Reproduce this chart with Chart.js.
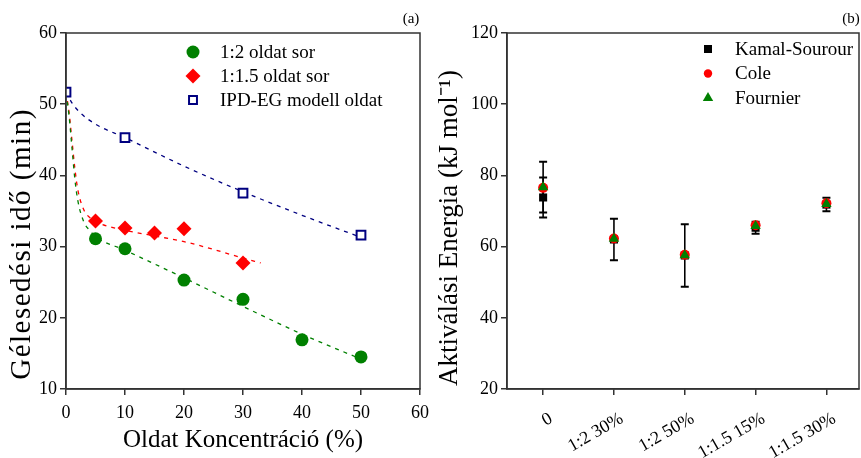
<!DOCTYPE html>
<html>
<head>
<meta charset="utf-8">
<script src="https://cdn.jsdelivr.net/npm/chart.js@4.4.1/dist/chart.umd.min.js"></script>
<style>
  body { margin: 0; background: #fff; }
  #wrap { position: relative; width: 861px; height: 458px; }
  #gelChart { position: absolute; left: 0; top: 0; }
  #energyChart { position: absolute; left: 430px; top: 0; }
</style>
</head>
<body>
<div id="wrap">
  <canvas id="gelChart" width="430" height="458"></canvas>
  <canvas id="energyChart" width="431" height="458"></canvas>
</div>
<script>
// (a) gelation time vs. solution concentration
const conc12 = [5, 10, 20, 30, 40, 50];
const time12 = [31.1, 29.7, 25.3, 22.6, 16.9, 14.5];
const conc15 = [5, 10, 15, 20, 30];
const time15 = [33.6, 32.6, 31.9, 32.5, 27.7];
const concIpd = [0, 10, 30, 50];
const timeIpd = [51.7, 45.3, 37.5, 31.6];

// dashed fit curves
const fit12X = [0, 0.5, 1, 1.5, 2, 3, 4, 5, 10, 20, 30, 40, 50];
const fit12Y = [51.6, 48.5, 44, 39.5, 36.5, 33.5, 32.3, 31.4, 29.5, 25.6, 21.6, 17.7, 14.2];
const fit15X = [0, 0.5, 1, 1.5, 2, 3, 4, 5, 10, 15, 20, 30, 33];
const fit15Y = [51.7, 49, 45, 41, 38, 35.2, 34.1, 33.5, 32.3, 31.5, 30.7, 28.4, 27.7];
const fitIpdX = [0, 1, 2.4, 5, 10, 20, 30, 40, 50];
const fitIpdY = [51.7, 50.2, 48.8, 47.2, 45.3, 41.3, 37.7, 34.4, 31.3];

// (b) activation energy per sample
const samples = ['0', '1:2 30%', '1:2 50%', '1:1.5 15%', '1:1.5 30%'];
const kamalSourour = [73.8, 62.0, 57.5, 65.3, 71.8];
const kamalErr = [5.6, 5.8, 8.8, 1.7, 1.9];
const cole = [76.5, 62.3, 57.7, 66.0, 72.2];
const fournier = [76.7, 62.2, 57.6, 65.8, 72.0];
const fournierErr = [7.1, 0, 0, 0, 0];

const serif = "'Liberation Serif', 'Times New Roman', serif";
Chart.defaults.font.family = serif;
Chart.defaults.color = '#000';

function pts(xs, ys) {
  return xs.map((x, i) => ({ x: x, y: ys[i] }));
}
const sampleIdx = samples.map((s, i) => i);

// box round the plot area
const frame = {
  id: 'frame',
  afterDraw(chart) {
    const a = chart.chartArea;
    const ctx = chart.ctx;
    ctx.save();
    ctx.strokeStyle = '#333';
    ctx.lineWidth = 1.5;
    ctx.strokeRect(a.left, a.top, a.right - a.left, a.bottom - a.top);
    ctx.restore();
  }
};

// legend inside the plot, panel letter and rotated y title
const decor = {
  id: 'decor',
  afterDraw(chart, args, opts) {
    const ctx = chart.ctx;
    ctx.save();
    ctx.textBaseline = 'middle';
    ctx.font = opts.legendSize + 'px ' + serif;
    opts.items.forEach((it, i) => {
      const y = opts.legendY + i * opts.legendStep;
      ctx.fillStyle = it.fill;
      ctx.strokeStyle = it.stroke;
      ctx.lineWidth = it.borderWidth;
      Chart.helpers.drawPoint(ctx, { pointStyle: it.style, radius: it.radius, borderWidth: it.borderWidth, rotation: 0 }, opts.legendX, y);
      ctx.fillStyle = '#000';
      ctx.textAlign = 'left';
      ctx.fillText(it.text, opts.legendX + 27, y + 1);
    });
    ctx.font = '15px ' + serif;
    ctx.textAlign = 'center';
    ctx.fillText(opts.panel, opts.panelX, 19);

    ctx.translate(opts.titleX, opts.titleY);
    ctx.rotate(-Math.PI / 2);
    ctx.font = opts.titleSize + 'px ' + serif;
    if ('letterSpacing' in ctx) ctx.letterSpacing = opts.titleSpacing + 'px';
    ctx.fillText(opts.title, 0, 0);
    ctx.restore();
  }
};

const errorBars = {
  id: 'errorBars',
  beforeDatasetsDraw(chart) {
    const ctx = chart.ctx;
    const xs = chart.scales.x;
    const ys = chart.scales.y;
    ctx.save();
    ctx.strokeStyle = '#000';
    const sets = [[kamalSourour, kamalErr], [fournier, fournierErr]];
    for (const [vals, errs] of sets) {
      vals.forEach((v, i) => {
        if (!errs[i]) return;
        const px = xs.getPixelForValue(i);
        const top = ys.getPixelForValue(v + errs[i]);
        const bot = ys.getPixelForValue(v - errs[i]);
        ctx.lineWidth = 1.6;
        ctx.beginPath();
        ctx.moveTo(px, top);
        ctx.lineTo(px, bot);
        ctx.stroke();
        ctx.lineWidth = 2;
        ctx.beginPath();
        ctx.moveTo(px - 4, top);
        ctx.lineTo(px + 4, top);
        ctx.moveTo(px - 4, bot);
        ctx.lineTo(px + 4, bot);
        ctx.stroke();
      });
    }
    ctx.restore();
  }
};

const tickFont = { family: serif, size: 18 };
const axisGrid = { drawOnChartArea: false, drawTicks: true, tickLength: 6, color: '#333', lineWidth: 1.5 };
const axisBorder = { color: '#333', width: 1.5 };

function fixX(s) {
  s.height = 69;
  s.paddingLeft = 0;
  s.paddingRight = 0;
}

new Chart('gelChart', {
  type: 'scatter',
  data: {
    datasets: [
      {
        data: pts(conc12, time12),
        pointStyle: 'circle', pointRadius: 6.5,
        pointBackgroundColor: '#008000', pointBorderColor: '#008000', pointBorderWidth: 0,
        order: 1
      },
      {
        data: pts(conc15, time15),
        pointStyle: 'rectRot', pointRadius: 7.5,
        pointBackgroundColor: '#ff0000', pointBorderColor: '#ff0000', pointBorderWidth: 0,
        order: 1
      },
      {
        data: pts(concIpd, timeIpd),
        pointStyle: 'rect', pointRadius: 6.2,
        pointBackgroundColor: '#fff', pointBorderColor: '#000080', pointBorderWidth: 2,
        order: 1
      },
      {
        data: pts(fit12X, fit12Y), showLine: true, pointRadius: 0,
        borderColor: '#008000', borderWidth: 1.3, borderDash: [4, 5],
        cubicInterpolationMode: 'monotone', order: 5
      },
      {
        data: pts(fit15X, fit15Y), showLine: true, pointRadius: 0,
        borderColor: '#ff0000', borderWidth: 1.3, borderDash: [4, 5],
        cubicInterpolationMode: 'monotone', order: 5
      },
      {
        data: pts(fitIpdX, fitIpdY), showLine: true, pointRadius: 0,
        borderColor: '#000080', borderWidth: 1.3, borderDash: [4, 5],
        cubicInterpolationMode: 'monotone', order: 5
      }
    ]
  },
  options: {
    responsive: false,
    animation: false,
    layout: { autoPadding: false, padding: { top: 33, right: 10, left: 0, bottom: 0 } },
    plugins: {
      legend: { display: false },
      tooltip: { enabled: false },
      decor: {
        items: [
          { text: '1:2 oldat sor', style: 'circle', radius: 6.5, fill: '#008000', stroke: '#008000', borderWidth: 0 },
          { text: '1:1.5 oldat sor', style: 'rectRot', radius: 7.5, fill: '#ff0000', stroke: '#ff0000', borderWidth: 0 },
          { text: 'IPD-EG modell oldat', style: 'rect', radius: 5.6, fill: '#fff', stroke: '#000080', borderWidth: 2 }
        ],
        legendX: 193, legendY: 52, legendStep: 24, legendSize: 19,
        panel: '(a)', panelX: 411,
        title: 'Gélesedési idő (min)', titleX: 22, titleY: 244, titleSize: 29, titleSpacing: 1.5
      }
    },
    scales: {
      x: {
        type: 'linear', min: 0, max: 60,
        ticks: { stepSize: 10, font: tickFont, padding: 7, color: '#000' },
        grid: axisGrid, border: axisBorder,
        title: { display: true, text: 'Oldat Koncentráció (%)', font: { family: serif, size: 25 }, color: '#000', padding: { top: 0, bottom: 3 } },
        afterFit: fixX
      },
      y: {
        min: 10, max: 60,
        ticks: { stepSize: 10, font: tickFont, padding: 3, color: '#000' },
        grid: axisGrid, border: axisBorder,
        afterFit: s => { s.width = 66; }
      }
    }
  },
  plugins: [frame, decor]
});

new Chart('energyChart', {
  type: 'scatter',
  data: {
    datasets: [
      {
        data: pts(sampleIdx, fournier),
        pointStyle: 'triangle', pointRadius: 6,
        pointBackgroundColor: '#008000', pointBorderColor: '#008000', pointBorderWidth: 0,
        order: 1
      },
      {
        data: pts(sampleIdx, cole),
        pointStyle: 'circle', pointRadius: 5,
        pointBackgroundColor: '#ff0000', pointBorderColor: '#ff0000', pointBorderWidth: 0,
        order: 2
      },
      {
        data: pts(sampleIdx, kamalSourour),
        pointStyle: 'rect', pointRadius: 5.7,
        pointBackgroundColor: '#000', pointBorderColor: '#000', pointBorderWidth: 0,
        order: 3
      }
    ]
  },
  options: {
    responsive: false,
    animation: false,
    layout: { autoPadding: false, padding: { top: 33, right: 2, left: 0, bottom: 0 } },
    plugins: {
      legend: { display: false },
      tooltip: { enabled: false },
      decor: {
        items: [
          { text: 'Kamal-Sourour', style: 'rect', radius: 5.7, fill: '#000', stroke: '#000', borderWidth: 0 },
          { text: 'Cole', style: 'circle', radius: 4.2, fill: '#ff0000', stroke: '#ff0000', borderWidth: 0 },
          { text: 'Fournier', style: 'triangle', radius: 6, fill: '#008000', stroke: '#008000', borderWidth: 0 }
        ],
        legendX: 278, legendY: 49, legendStep: 24.5, legendSize: 19,
        panel: '(b)', panelX: 421,
        title: 'Aktiválási Energia (kJ mol\u207B\u00B9)', titleX: 20, titleY: 228, titleSize: 27, titleSpacing: 0
      }
    },
    scales: {
      x: {
        type: 'linear', min: -0.51, max: 4.46,
        afterBuildTicks: s => { s.ticks = sampleIdx.map(v => ({ value: v })); },
        ticks: {
          font: tickFont, minRotation: 30, maxRotation: 30, padding: 13, labelOffset: 8, color: '#000',
          callback: v => samples[v]
        },
        grid: axisGrid, border: axisBorder,
        afterFit: fixX
      },
      y: {
        min: 20, max: 120,
        ticks: { stepSize: 20, font: tickFont, padding: 3, color: '#000' },
        grid: axisGrid, border: axisBorder,
        afterFit: s => { s.width = 77; }
      }
    }
  },
  plugins: [frame, errorBars, decor]
});
</script>
</body>
</html>
